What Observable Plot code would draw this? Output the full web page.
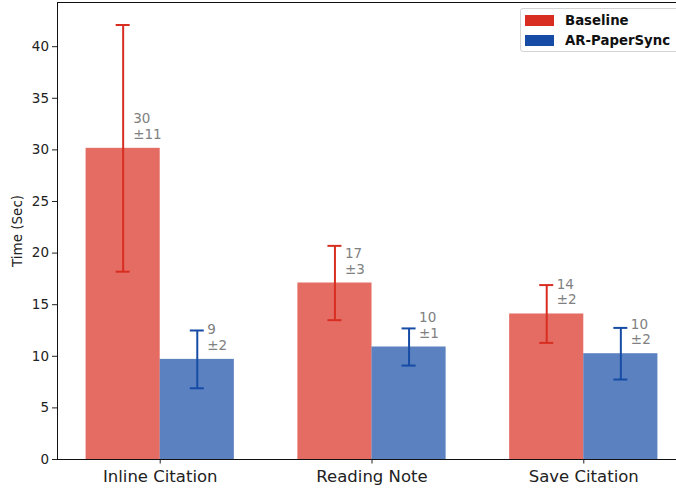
<!DOCTYPE html>
<html>
<head>
<meta charset="utf-8">
<script src="https://cdn.jsdelivr.net/npm/d3@7"></script>
<script src="https://cdn.jsdelivr.net/npm/@observablehq/plot@0.6"></script>
<style>
  html, body { margin: 0; padding: 0; background: #fff; overflow: hidden; }
  #wrap { position: relative; width: 676px; height: 488px; overflow: hidden; font-family: "DejaVu Sans", sans-serif; }
  #wrap svg { max-width: none !important; }
  #legend {
    position: absolute; left: 520px; top: 8px; width: 162px; height: 44px;
    border: 1px solid #d4d4d4; border-radius: 3px; background: rgba(255,255,255,0.8);
    box-sizing: border-box; font-weight: bold; font-size: 13.3px; color: #111;
  }
  .item { position: absolute; left: 4px; height: 12px; display: flex; align-items: center; }
  .sw { width: 29px; height: 11px; margin-right: 11px; }
</style>
</head>
<body>
<div id="wrap"></div>
<script>
// Task completion time per interaction, mean ± SD
const categories = ["Inline Citation", "Reading Note", "Save Citation"];
const series = ["Baseline", "AR-PaperSync"];
const baselineMean = [30.15, 17.1, 14.1];
const baselineSd = [11.95, 3.6, 2.8];
const arMean = [9.7, 10.9, 10.25];
const arSd = [2.8, 1.8, 2.5];
const yTicks = [0, 5, 10, 15, 20, 25, 30, 35, 40];

const colors = {"Baseline": "#d82d21", "AR-PaperSync": "#164ca5"};
const barWidth = 0.35;

const rows = [];
categories.forEach((c, i) => {
  rows.push({cat: c, i, s: series[0], k: 0, mean: baselineMean[i], sd: baselineSd[i]});
  rows.push({cat: c, i, s: series[1], k: 1, mean: arMean[i], sd: arSd[i]});
});
// bar centre: category index shifted half a bar left (Baseline) or right (AR-PaperSync)
const center = d => d.i + (d.k === 0 ? -barWidth / 2 : barWidth / 2);

const chart = Plot.plot({
  width: 686,
  height: 488,
  marginTop: 2,
  marginBottom: 29,
  marginLeft: 57,
  marginRight: 0,
  style: {fontFamily: "DejaVu Sans, sans-serif", color: "#222", background: "#fff", maxWidth: "none"},
  x: {domain: [-0.485, 2.485]},
  y: {domain: [0, 44.28]},
  color: {domain: series, range: series.map(s => colors[s])},
  marks: [
    Plot.rectY(rows, {
      x1: d => center(d) - barWidth / 2,
      x2: d => center(d) + barWidth / 2,
      y1: 0, y2: "mean",
      fill: "s", fillOpacity: 0.7
    }),
    Plot.ruleX(rows, {x: center, y1: d => d.mean - d.sd, y2: d => d.mean + d.sd, stroke: "s", strokeWidth: 2}),
    Plot.ruleY(rows, {y: d => d.mean + d.sd, x1: center, x2: center, insetLeft: -7, insetRight: -7, stroke: "s", strokeWidth: 2}),
    Plot.ruleY(rows, {y: d => d.mean - d.sd, x1: center, x2: center, insetLeft: -7, insetRight: -7, stroke: "s", strokeWidth: 2}),
    Plot.text(rows, {
      x: center, y: "mean",
      text: d => `${Math.trunc(d.mean)}\n±${Math.trunc(d.sd)}`,
      textAnchor: "start", lineAnchor: "bottom", lineHeight: 1.15,
      dx: 10, dy: -9.5, fill: "#808080", fontSize: 13.5
    }),
    Plot.axisY({
      ticks: yTicks, tickSize: 5, tickPadding: 3.5, fontSize: 13.5,
      label: "Time (Sec)", labelAnchor: "center", labelArrow: "none", labelOffset: 45
    }),
    Plot.axisX({
      ticks: [0, 1, 2], tickFormat: i => categories[i],
      tickSize: 4.5, tickPadding: 6, fontSize: 16.5, label: null
    }),
    Plot.frame({stroke: "#111", strokeWidth: 1})
  ]
});

const wrap = document.getElementById("wrap");
wrap.appendChild(chart);

const legend = document.createElement("div");
legend.id = "legend";
series.forEach((s, j) => {
  const item = document.createElement("div");
  item.className = "item";
  item.style.top = (5 + j * 20.5) + "px";
  const sw = document.createElement("span");
  sw.className = "sw";
  sw.style.background = colors[s];
  item.appendChild(sw);
  item.appendChild(document.createTextNode(s));
  legend.appendChild(item);
});
wrap.appendChild(legend);
</script>
</body>
</html>
